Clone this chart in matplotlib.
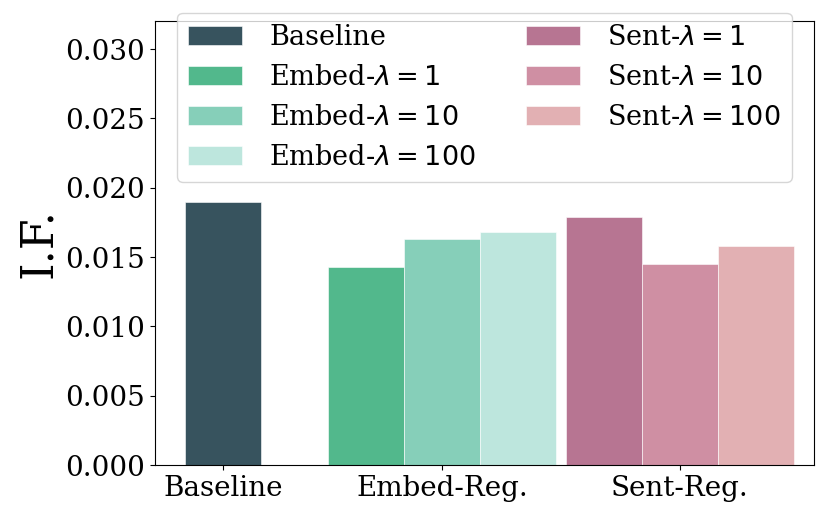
import matplotlib
matplotlib.use("Agg")
from matplotlib import pyplot as plt

plt.rcParams['font.family'] = 'DejaVu Serif'

# bar values
labels = ['Baseline',
          r'Embed-$\lambda=1$', r'Embed-$\lambda=10$', r'Embed-$\lambda=100$',
          r'Sent-$\lambda=1$', r'Sent-$\lambda=10$', r'Sent-$\lambda=100$']
values = [0.0190, 0.0143, 0.0163, 0.0168, 0.0179, 0.0145, 0.0158]
colors = ['#37535e', '#52b88c', '#86cfb9', '#bde6dd',
          '#b77592', '#cf8fa3', '#e2b0b3']
groups = ['Baseline', 'Embed-Reg.', 'Sent-Reg.']

# bar centres (in bar widths) and group tick positions
xpos = [0, 1.88, 2.88, 3.88, 5.01, 6.01, 7.01]
group_ticks = [0, 2.88, 6.01]

fig = plt.figure(figsize=(8.3, 5.19), dpi=100)
ax = fig.add_axes([0.1864, 0.104, 0.7943, 0.855])

for i in range(len(values)):
    ax.bar(xpos[i], values[i], width=1.0, color=colors[i], label=labels[i],
           edgecolor='white', linewidth=0.4)

ax.set_xticks(group_ticks)
ax.set_xticklabels(groups, fontsize=20)
ax.tick_params(axis='y', labelsize=20)
ax.set_yticks([0.0, 0.005, 0.010, 0.015, 0.020, 0.025, 0.030])
ax.set_ylim(0, 0.032)
ax.set_xlim(-0.899, 7.776)
ax.set_ylabel('I.F.', fontsize=32)

leg = ax.legend(ncol=2, loc='upper center', bbox_to_anchor=(0.5, 1.049),
                fontsize=19.5, frameon=True, columnspacing=1.85,
                handlelength=2.0, handletextpad=1.0, labelspacing=0.48)

fig.savefig('out.png', dpi=100)
